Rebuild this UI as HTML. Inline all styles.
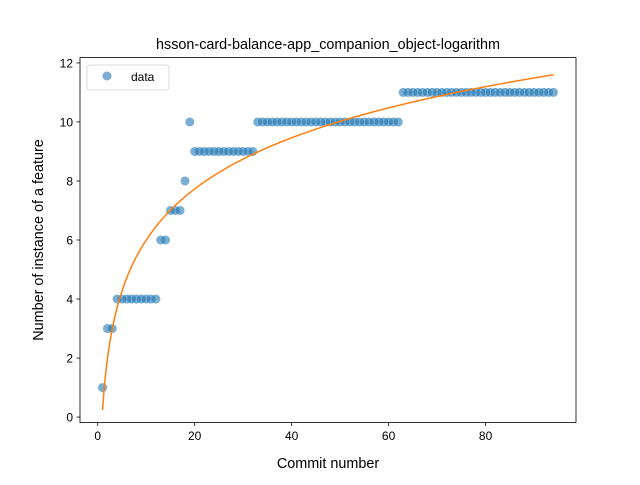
<!DOCTYPE html>
<html><head><meta charset="utf-8"><style>
body{margin:0;background:#fff}
svg text{font-family:"Liberation Sans","DejaVu Sans",sans-serif;fill:#000}
</style></head><body>
<svg id="chart" width="640" height="480" viewBox="0 0 640 480">
<rect width="640" height="480" fill="#fff"/>
<text x="328" y="49" text-anchor="middle" font-size="14.4">hsson-card-balance-app_companion_object-logarithm</text>
<g id="plot"></g>
<rect x="80" y="57.6" width="496" height="364.8" fill="none" stroke="#000" stroke-width="0.8"/>
<text x="328" y="468" text-anchor="middle" font-size="14.4">Commit number</text>
<text transform="translate(43,240) rotate(-90)" text-anchor="middle" font-size="14.4">Number of instance of a feature</text>
<g>
<rect x="87" y="65" width="82" height="25" rx="3" fill="#fff" stroke="#ccc" stroke-width="0.8" opacity="0.9"/>
<circle cx="107" cy="76" r="4.5" fill="#1f77b4" fill-opacity="0.6"/>
<text x="131" y="81" font-size="12">data</text>
</g>
</svg>
<script>
const xs=[];for(let i=1;i<=94;i++)xs.push(i);
const ys=[1,3,3,4,4,4,4,4,4,4,4,4,6,6,7,7,7,8,10,9,9,9,9,9,9,9,9,9,9,9,9,9,
10,10,10,10,10,10,10,10,10,10,10,10,10,10,10,10,10,10,10,10,10,10,10,10,10,10,10,10,10,10,
11,11,11,11,11,11,11,11,11,11,11,11,11,11,11,11,11,11,11,11,11,11,11,11,11,11,11,11,11,11,11,11];
const fitA=0.24, fitB=2.5;
const xTicks=[0,20,40,60,80];
const yTicks=[0,2,4,6,8,10,12];
const xMin=-3.65,xMax=98.65,yMin=-0.18,yMax=12.18;
const X=v=>80+(v-xMin)/(xMax-xMin)*496;
const Y=v=>422.4-(v-yMin)/(yMax-yMin)*364.8;
const NS="http://www.w3.org/2000/svg";
const g=document.getElementById('plot');
function mk(t,a){const e=document.createElementNS(NS,t);for(const k in a)e.setAttribute(k,a[k]);g.appendChild(e);return e;}
xTicks.forEach(t=>{
 const l=mk('line',{x1:X(t),x2:X(t),y1:422.4,y2:425.9,stroke:'#000','stroke-width':0.8});
 
 
 const s=mk('text',{x:X(t),y:440,'text-anchor':'middle','font-size':12});s.textContent=t;
 
 
});
yTicks.forEach(t=>{
 const l=mk('line',{x1:76.5,x2:80,y1:Y(t),y2:Y(t),stroke:'#000','stroke-width':0.8});
 
 
 const s=mk('text',{x:73,y:Y(t)+4.5,'text-anchor':'end','font-size':12});s.textContent=t;
 
 
});
xs.forEach((x,i)=>{
 const c=mk('circle',{cx:X(x),cy:Y(ys[i]),r:4.5,fill:'#1f77b4','fill-opacity':0.6});
 
 
});
let d='';
for(let x=1;x<=94;x+=0.25){d+=(d?'L':'M')+X(x).toFixed(2)+','+Y(fitA+fitB*Math.log(x)).toFixed(2);}
const p=mk('path',{d:d,fill:'none',stroke:'#ff7f0e','stroke-width':1.5});


</script>
</body></html>
